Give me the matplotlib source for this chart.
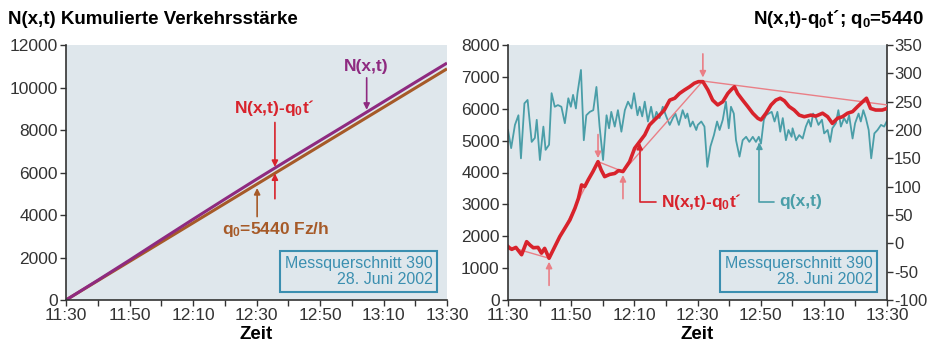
import numpy as np
import matplotlib
matplotlib.use('Agg')
import matplotlib.pyplot as plt

plt.rcParams['font.family'] = ['Liberation Sans', 'DejaVu Sans']
plt.rcParams['mathtext.fontset'] = 'custom'
plt.rcParams['mathtext.rm'] = 'Liberation Sans:bold'
plt.rcParams['mathtext.it'] = 'Liberation Sans:bold'
plt.rcParams['mathtext.bf'] = 'Liberation Sans:bold'
plt.rcParams['axes.unicode_minus'] = False

# minutes after 11:30
time_ticks = [0, 20, 40, 60, 80, 100, 120]
time_labels = ['11:30', '11:50', '12:10', '12:30', '12:50', '13:10', '13:30']
q0 = 5440

# left chart: cumulative counts
t_cum = [0, 10, 20, 30, 40, 50, 60, 70, 80, 90, 100, 110, 120]
n_cum = [0, 927, 1873, 2840, 3797, 4743, 5680, 6597, 7503, 8410, 9327, 10243, 11150]
t_ref = [0, 120]
n_ref = [0, 10880]

# right chart: N(x,t) - q0 t'
t_red = [0, 0.6, 1.2, 2.5, 4.3, 5.9, 7, 8, 9.5, 10.6, 11.6, 13, 14.8, 16.4, 18, 19.6,
         21.2, 22.3, 23.3, 24.3, 25.4, 26.9, 28.5, 29.5, 30.6, 32.2, 33.8, 35, 36.4,
         38.5, 40.1, 41.7, 43.3, 44.8, 46.4, 48, 49.5, 51.2, 52.8, 54.3, 55.9, 57.5,
         59, 60.3, 61.7, 63.3, 64.8, 66.4, 68, 69.6, 70.6, 71.7, 72.7, 74.3, 75.9,
         77.5, 79.1, 80.1, 81.7, 83.3, 84.8, 86.2, 87.5, 89, 90.6, 92.2, 93.8, 95.9,
         97.5, 99.6, 101.2, 102.7, 104.3, 105.9, 107.5, 109.1, 110.7, 112.3, 113.5,
         114.8, 116.4, 118.5, 120]
n_red = [1680, 1620, 1590, 1650, 1420, 1830, 1720, 1640, 1650, 1470, 1620, 1310, 1670,
         1990, 2250, 2510, 2880, 3190, 3610, 3560, 3770, 4030, 4340, 4080, 3870, 3940,
         3970, 4060, 4030, 4340, 4760, 4970, 5180, 5490, 5650, 5800, 5960, 6270, 6330,
         6480, 6590, 6690, 6800, 6850, 6850, 6590, 6270, 6120, 6220, 6480, 6590, 6690,
         6480, 6270, 6070, 5860, 5700, 5650, 5860, 6120, 6270, 6330, 6250, 6070, 5960,
         5800, 5750, 5800, 5770, 5860, 5750, 5540, 5700, 5750, 5860, 5910, 6070, 6220,
         6330, 6010, 5960, 5960, 6010]

# straight segments between breakpoints
t_trend = [0, 13, 28.5, 36.4, 61.7, 120]
n_trend = [1680, 1310, 4340, 4030, 6870, 6120]
arrow_dirs = [0, 1, -1, 1, -1, 0]   # 1 = arrow from below, -1 = from above

# q(x,t), right axis
t_q = [0, 1, 2.2, 3.3, 4.1, 5.2, 6.2, 7.5, 8.5, 9.1, 10.1, 11.2, 11.9, 13, 13.8, 14.8,
       15.8, 16.9, 18, 19.1, 19.9, 20.6, 21.5, 22, 23.1, 24, 24.8, 25.9, 27, 28, 29,
       30.1, 31.2, 32, 32.7, 33.8, 34.8, 35.9, 37, 38, 39.1, 39.9, 41, 41.7, 42.5,
       43.3, 44.3, 45.3, 46.2, 47, 48, 49, 50.1, 51.2, 52.2, 53, 54.1, 55.3, 56.2,
       56.8, 57.7, 58.5, 59.6, 60.1, 61.2, 62.2, 63.1, 64.1, 65.2, 66.2, 67, 68, 69,
       69.9, 70.6, 71.5, 72.2, 73.3, 74.3, 75.4, 76.4, 77.5, 78.5, 79.4, 80.1, 81,
       81.7, 82.5, 83.5, 84.4, 85.3, 86.2, 87, 88, 88.8, 89.8, 90.1, 91.2, 92.2, 93.3,
       94.3, 95.2, 95.9, 96.6, 97.5, 98.3, 99.4, 100.1, 101.2, 102, 102.7, 103.8,
       104.6, 105.4, 106.4, 107.3, 108, 109.1, 109.9, 111, 111.7, 112.5, 113.3, 114.2,
       115, 116, 117, 118.1, 119.1, 119.9]
q_vals = [200, 168, 209, 226, 150, 247, 253, 179, 186, 218, 147, 206, 165, 174, 265, 241,
          244, 241, 212, 256, 241, 262, 238, 265, 306, 182, 226, 232, 235, 276, 206,
          147, 226, 203, 232, 206, 235, 197, 235, 250, 238, 265, 226, 241, 224,
          250, 215, 241, 215, 232, 221, 241, 224, 209, 221, 229, 209, 235, 221,
          229, 206, 215, 200, 209, 215, 206, 135, 171, 191, 215, 200, 218, 250,
          203, 241, 229, 182, 153, 182, 188, 179, 188, 179, 188, 176, 218,
          226, 229, 232, 215, 232, 197, 221, 182, 200, 188, 203, 182, 191, 185,
          206, 218, 206, 229, 221, 209, 218, 194, 200, 179, 203, 212,
          235, 206, 221, 212, 226, 185, 212, 229, 215, 235, 221, 200,
          150, 194, 200, 209, 206, 215]

bg = '#dfe7ec'
purple = '#8e2a80'
brown = '#a65a28'
red = '#d8232c'
pink = '#ea7f86'
teal = '#4a9ea8'
boxcol = '#3b8fb0'
dark = '#333333'
box_text = 'Messquerschnitt 390\n28. Juni 2002'

fig = plt.figure(figsize=(9.31, 3.46), dpi=100)
ax1 = fig.add_axes([66/931, 46/346, 381/931, 255/346])
ax = fig.add_axes([508/931, 46/346, 379/931, 255/346])
ax2 = ax.twinx()


def style_x(a):
    a.set_xlim(0, 120)
    a.set_xticks(time_ticks)
    a.set_xticklabels(time_labels)
    a.set_xticks(range(10, 120, 20), minor=True)
    a.tick_params(axis='x', which='both', length=4, width=1, color=dark)
    a.set_xlabel('Zeit', fontsize=13.5, fontweight='bold', labelpad=2)


# ---- left chart
ax1.set_facecolor(bg)
ax1.plot(t_ref, n_ref, color=brown, lw=2.2, solid_capstyle='butt')
ax1.plot(t_cum, n_cum, color=purple, lw=2.2, solid_capstyle='butt')
ax1.set_ylim(0, 12000)
ax1.set_yticks(range(0, 12001, 2000))
style_x(ax1)
for s in ['top', 'right']:
    ax1.spines[s].set_visible(False)
for s in ['left', 'bottom']:
    ax1.spines[s].set_color(dark)
    ax1.spines[s].set_linewidth(1.2)
ax1.tick_params(labelsize=12.5, labelcolor=dark, pad=2)
ax1.tick_params(axis='y', length=4, width=1, color=dark)

arr = dict(arrowstyle='-|>', mutation_scale=9, lw=1.2, shrinkA=1, shrinkB=0)
ax1.annotate('N(x,t)', xy=(94.7, 8950), xytext=(94.7, 10650), ha='center', va='bottom',
             color=purple, fontsize=12.5, fontweight='bold',
             arrowprops=dict(arr, color=purple))
ax1.annotate('N(x,t)-q$_0$t´', xy=(65.8, 6260), xytext=(65.8, 8550), ha='center',
             va='bottom', color=red, fontsize=12.5, fontweight='bold',
             arrowprops=dict(arr, color=red))
ax1.annotate('', xy=(65.8, 5960), xytext=(65.8, 4700), arrowprops=dict(arr, color=red))
ax1.annotate('', xy=(60.2, 5270), xytext=(60.2, 3860), arrowprops=dict(arr, color=brown))
ax1.text(66, 3300, 'q$_0$=5440 Fz/h', ha='center', va='center', color=brown,
         fontsize=12.5, fontweight='bold')
ax1.text(0.962, 0.05, box_text, transform=ax1.transAxes, ha='right', va='bottom',
         multialignment='right', color=boxcol, fontsize=11.5, linespacing=1.1,
         bbox=dict(boxstyle='square,pad=0.3', fc=bg, ec=boxcol, lw=1.5))

# ---- right chart
ax2.set_zorder(1)
ax.set_zorder(2)
ax.patch.set_visible(False)
ax2.patch.set_visible(True)
ax2.set_facecolor(bg)

ax2.plot(t_q, q_vals, color=teal, lw=1.3)
ax2.set_ylim(-100, 350)
ax2.set_yticks(range(-100, 351, 50))

ax.plot(t_trend, n_trend, color=pink, lw=1.0)
ax.plot(t_red, n_red, color=red, lw=2.6)
for tt, nn, d in zip(t_trend, n_trend, arrow_dirs):
    if d == 0:
        continue
    ax.annotate('', xy=(tt, nn - d * 110), xytext=(0, -d * 18), textcoords='offset points',
                arrowprops=dict(arr, color=pink))
ax.set_ylim(0, 8000)
ax.set_yticks(range(0, 8001, 1000))
style_x(ax)

ax.annotate('N(x,t)-q$_0$t´', xy=(41.7, 4930), xytext=(48.5, 3080), ha='left',
            va='center', color=red, fontsize=12.5, fontweight='bold',
            arrowprops=dict(arr, color=red, shrinkA=2,
                            connectionstyle='angle,angleA=0,angleB=90,rad=0'))
ax2.annotate('q(x,t)', xy=(79.6, 178), xytext=(86, 73), ha='left', va='center',
             color=teal, fontsize=12.5, fontweight='bold',
             arrowprops=dict(arr, color=teal, shrinkA=2,
                             connectionstyle='angle,angleA=0,angleB=90,rad=0'))
ax.text(0.962, 0.05, box_text, transform=ax.transAxes, ha='right', va='bottom',
        multialignment='right', color=boxcol, fontsize=11.5, linespacing=1.1,
        bbox=dict(boxstyle='square,pad=0.3', fc=bg, ec=boxcol, lw=1.5))

for s in ['top', 'right']:
    ax.spines[s].set_visible(False)
for s in ['top', 'left', 'bottom']:
    ax2.spines[s].set_visible(False)
for s in ['left', 'bottom']:
    ax.spines[s].set_color(dark)
    ax.spines[s].set_linewidth(1.2)
ax2.spines['right'].set_color(dark)
ax2.spines['right'].set_linewidth(1.2)
ax.tick_params(labelsize=12.5, labelcolor=dark, pad=2)
ax.tick_params(axis='y', length=4, width=1, color=dark)
ax2.tick_params(labelsize=12, labelcolor=dark, pad=1, length=4, width=1, color=dark)

fig.text(0.009, 0.945, 'N(x,t) Kumulierte Verkehrsstärke', ha='left', va='center',
         fontsize=13.5, fontweight='bold')
fig.text(0.992, 0.945, 'N(x,t)-q$_0$t´; q$_0$=5440', ha='right', va='center',
         fontsize=13.5, fontweight='bold')

fig.savefig('out.png', dpi=100)
